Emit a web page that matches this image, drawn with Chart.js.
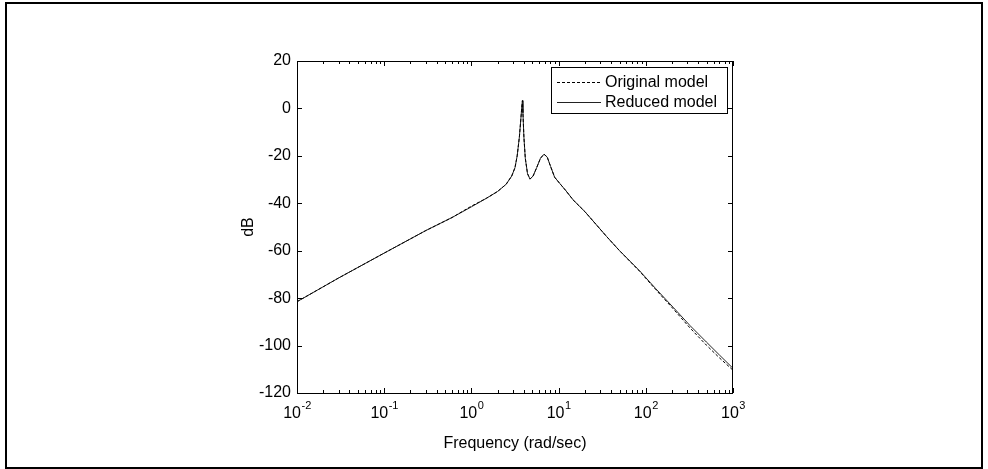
<!DOCTYPE html>
<html>
<head>
<meta charset="utf-8">
<script src="https://cdn.jsdelivr.net/npm/chart.js@4.4.0/dist/chart.umd.min.js"></script>
<style>
    html, body { margin: 0; padding: 0; background: #fff; }
    #frame { position: absolute; left: 5px; top: 2px; width: 978px; height: 467px; box-sizing: border-box; border: 2px solid #000; }
    #wrap { position: absolute; left: 0; top: 0; width: 988px; height: 469px; }
</style>
</head>
<body>
<div id="frame"></div>
<div id="wrap"><canvas id="bode"></canvas></div>
<script>
// frequency points (rad/sec) and magnitudes (dB)
const freq = [0.01, 0.03, 0.1, 0.3, 0.6, 1, 1.5, 2, 2.5, 2.9, 3.16, 3.35, 3.55, 3.7, 3.8, 3.85, 3.9, 4.0, 4.15, 4.4, 4.7, 5.1, 5.6, 6.2, 6.8, 7.4, 8.1, 9, 10.4, 12, 14.7, 20, 35.5, 50, 85, 130, 205, 320, 495, 700, 1000];
const reducedDb = [-81.5, -71.5, -61, -51.5, -46, -41.5, -37.8, -35, -32, -28.5, -25, -20, -12, -4, 1.5, 3.3, -2, -12, -21, -27.5, -29.8, -28.5, -25, -21, -19.3, -20.5, -24.5, -29, -31.8, -34.5, -38.6, -43.5, -54, -60, -68.5, -76, -83.8, -91.5, -98.5, -104, -109.6];
const originalDb = [-81.5, -71.5, -61, -51.5, -46, -41.2, -37.8, -35, -32, -28.5, -25, -20, -12, -4, 1.5, 3.3, -2, -12, -21, -27.5, -29.8, -28.5, -25, -21, -19.3, -20.5, -24.5, -29, -31.8, -34.5, -38.6, -43.5, -54, -60, -68.7, -76.4, -84.4, -92.5, -99.8, -105.2, -110.4];
const seriesNames = ['Original model', 'Reduced model'];
const xDecades = [-2, -1, 0, 1, 2, 3];
const yTickValues = [20, 0, -20, -40, -60, -80, -100, -120];

const FONT = 'Arial, "Liberation Sans", sans-serif';

const toPoints = (ys) => freq.map((f, i) => ({ x: f, y: ys[i] }));

// box around the axes, inward ticks, 10^n labels and legend, MATLAB style
const matlabAxes = {
    id: 'matlabAxes',
    afterDraw(chart) {
        const { ctx, chartArea: a, scales: { x, y } } = chart;
        ctx.save();
        ctx.strokeStyle = '#000';
        ctx.lineWidth = 1;
        ctx.strokeRect(a.left + 0.5, a.top + 0.5, a.right - a.left - 1, a.bottom - a.top);

        ctx.beginPath();
        xDecades.forEach(e => {
            const px = Math.round(x.getPixelForValue(Math.pow(10, e))) + 0.5;
            ctx.moveTo(px, a.bottom); ctx.lineTo(px, a.bottom - 5);
            ctx.moveTo(px, a.top); ctx.lineTo(px, a.top + 5);
            if (e < 3) {
                for (let m = 2; m <= 9; m++) {
                    const mx = Math.round(x.getPixelForValue(m * Math.pow(10, e))) + 0.5;
                    ctx.moveTo(mx, a.bottom); ctx.lineTo(mx, a.bottom - 3);
                    ctx.moveTo(mx, a.top); ctx.lineTo(mx, a.top + 3);
                }
            }
        });
        yTickValues.forEach(v => {
            const py = Math.round(y.getPixelForValue(v)) + 0.5;
            ctx.moveTo(a.left, py); ctx.lineTo(a.left + 5, py);
            ctx.moveTo(a.right, py); ctx.lineTo(a.right - 5, py);
        });
        ctx.stroke();

        // decade labels with raised exponent
        ctx.fillStyle = '#000';
        ctx.textBaseline = 'alphabetic';
        ctx.textAlign = 'left';
        xDecades.forEach(e => {
            const px = x.getPixelForValue(Math.pow(10, e));
            const exp = String(e);
            ctx.font = '16px ' + FONT;
            const w1 = ctx.measureText('10').width;
            ctx.font = '11px ' + FONT;
            const w2 = ctx.measureText(exp).width;
            const left = px - (w1 + w2) / 2;
            ctx.font = '16px ' + FONT;
            ctx.fillText('10', left, a.bottom + 25);
            ctx.font = '11px ' + FONT;
            ctx.fillText(exp, left + w1 + 0.5, a.bottom + 16);
        });

        // legend in the upper right corner
        ctx.font = '16px ' + FONT;
        const textW = Math.max(...chart.data.datasets.map(d => ctx.measureText(d.label).width));
        const boxW = Math.round(6 + 44 + 4 + textW + 10);
        const boxH = 46;
        const bx = a.right - 6 - boxW;
        const by = a.top + 6;
        ctx.fillStyle = '#fff';
        ctx.fillRect(bx, by, boxW, boxH);
        ctx.strokeRect(bx + 0.5, by + 0.5, boxW, boxH);
        chart.data.datasets.forEach((d, i) => {
            const ly = by + 15 + i * 20;
            ctx.beginPath();
            ctx.setLineDash(d.borderDash || []);
            ctx.strokeStyle = d.borderColor;
            ctx.moveTo(bx + 6, ly + 0.5);
            ctx.lineTo(bx + 50, ly + 0.5);
            ctx.stroke();
            ctx.setLineDash([]);
            ctx.fillStyle = '#000';
            ctx.textBaseline = 'middle';
            ctx.fillText(d.label, bx + 54, ly + 1);
        });
        ctx.restore();
    }
};

new Chart(document.getElementById('bode'), {
    type: 'line',
    data: {
        datasets: [
            {
                label: seriesNames[0],
                data: toPoints(originalDb),
                borderColor: '#000',
                borderWidth: 1,
                borderDash: [3, 2],
                pointRadius: 0,
                tension: 0,
            },
            {
                label: seriesNames[1],
                data: toPoints(reducedDb),
                borderColor: '#222',
                borderWidth: 1,
                pointRadius: 0,
                tension: 0,
            },
        ],
    },
    options: {
        responsive: true,
        maintainAspectRatio: false,
        animation: false,
        devicePixelRatio: 1,
        layout: { padding: { left: 239, top: 61, right: 255, bottom: 16 } },
        plugins: {
            legend: { display: false },
            tooltip: { enabled: false },
        },
        scales: {
            x: {
                type: 'logarithmic',
                min: 0.01,
                max: 1000,
                grid: { display: false, drawTicks: false },
                border: { display: false },
                ticks: { display: false },
                title: { display: true, text: 'Frequency (rad/sec)', color: '#000', font: { family: FONT, size: 16 }, padding: 0 },
                afterFit: (scale) => { scale.height = 60; },
            },
            y: {
                min: -120,
                max: 20,
                grid: { display: false, drawTicks: false },
                border: { display: false },
                ticks: { stepSize: 20, color: '#000', padding: 6, font: { family: FONT, size: 16 } },
                title: { display: true, text: 'dB', color: '#000', font: { family: FONT, size: 16 }, padding: 0 },
                afterFit: (scale) => { scale.width = 58; },
            },
        },
    },
    plugins: [matlabAxes],
});
</script>
</body>
</html>
